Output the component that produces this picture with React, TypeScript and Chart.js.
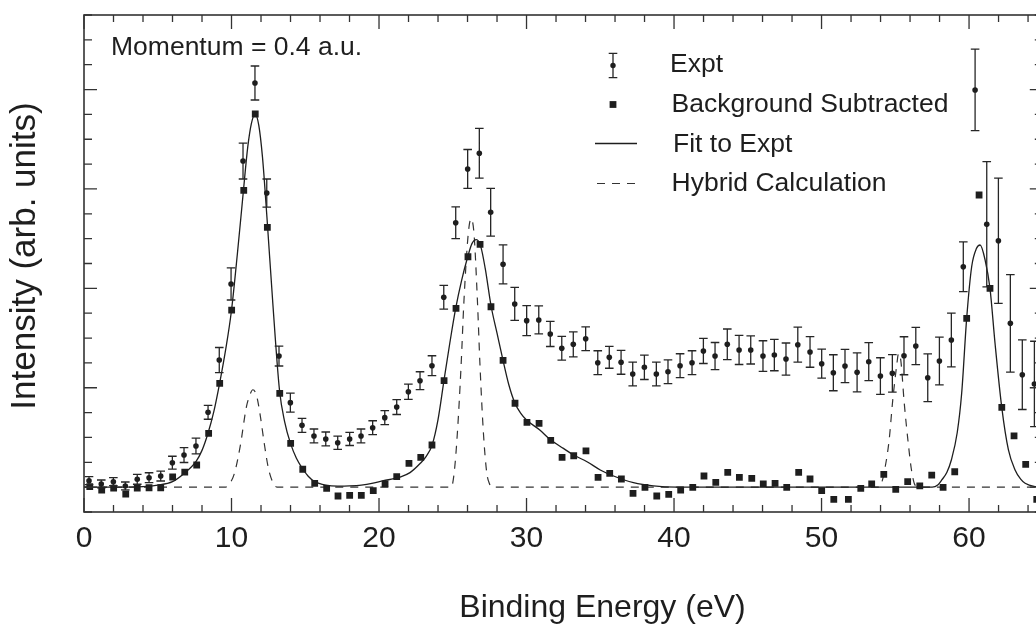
import React, { useEffect, useRef } from 'react';
import { Chart, registerables } from 'chart.js';

Chart.register(...registerables);

// ---------- data ----------
const exptEnergy = [
  0.34, 1.17, 1.99, 2.80, 3.61, 4.41, 5.20, 5.99, 6.78, 7.59,
  8.41, 9.17, 9.97, 10.78, 11.59, 12.39, 13.22, 13.99, 14.78, 15.59,
  16.39, 17.20, 18.01, 18.78, 19.57, 20.39, 21.20, 21.99, 22.78, 23.59,
  24.39, 25.20, 26.01, 26.80, 27.57, 28.41, 29.20, 30.01, 30.83, 31.61,
  32.39, 33.17, 34.01, 34.83, 35.61, 36.41, 37.20, 37.99, 38.80, 39.59,
  40.41, 41.22, 41.99, 42.78, 43.61, 44.41, 45.20, 46.03, 46.80, 47.59,
  48.39, 49.22, 50.01, 50.80, 51.59, 52.41, 53.20, 53.99, 54.80, 55.59,
  56.39, 57.20, 57.99, 58.80, 59.61, 60.41, 61.20, 61.99, 62.80, 63.61, 64.43,
];
const exptIntensity = [
  0.065, 0.032, 0.055, 0.012, 0.079, 0.095, 0.112, 0.246, 0.323, 0.414,
  0.753, 1.279, 2.044, 3.281, 4.066, 2.959, 1.319, 0.850, 0.622, 0.515,
  0.485, 0.447, 0.485, 0.515, 0.598, 0.699, 0.806, 0.960, 1.071, 1.222,
  1.910, 2.660, 3.201, 3.359, 2.765, 2.242, 1.843, 1.675, 1.682, 1.541,
  1.397, 1.437, 1.493, 1.252, 1.306, 1.256, 1.138, 1.206, 1.138, 1.161,
  1.222, 1.252, 1.370, 1.319, 1.437, 1.380, 1.380, 1.319, 1.329, 1.289,
  1.433, 1.360, 1.242, 1.151, 1.219, 1.155, 1.262, 1.118, 1.145, 1.322,
  1.420, 1.101, 1.269, 1.480, 2.218, 3.996, 2.644, 2.479, 1.648, 1.131, 1.038,
];
const exptError = [
  0.04, 0.04, 0.04, 0.04, 0.05, 0.05, 0.05, 0.065, 0.075, 0.08,
  0.07, 0.126, 0.161, 0.181, 0.171, 0.141, 0.10, 0.096, 0.07, 0.07,
  0.07, 0.066, 0.066, 0.07, 0.07, 0.07, 0.075, 0.077, 0.09, 0.10,
  0.12, 0.16, 0.196, 0.25, 0.24, 0.196, 0.166, 0.151, 0.141, 0.126,
  0.12, 0.126, 0.12, 0.12, 0.11, 0.12, 0.12, 0.123, 0.12, 0.12,
  0.12, 0.12, 0.126, 0.136, 0.154, 0.146, 0.141, 0.154, 0.158, 0.161,
  0.176, 0.154, 0.146, 0.181, 0.168, 0.196, 0.191, 0.184, 0.189, 0.191,
  0.188, 0.24, 0.24, 0.27, 0.25, 0.41, 0.63, 0.63, 0.49, 0.35, 0.43,
];

const bgEnergy = [
  0.39, 1.20, 2.01, 2.83, 3.61, 4.41, 5.20, 6.01, 6.83, 7.64,
  8.45, 9.20, 10.01, 10.83, 11.61, 12.43, 13.27, 14.01, 14.83, 15.64,
  16.45, 17.22, 18.01, 18.80, 19.61, 20.41, 21.20, 22.03, 22.83, 23.59,
  24.41, 25.22, 26.03, 26.85, 27.59, 28.41, 29.22, 30.03, 30.85, 31.64,
  32.41, 33.20, 34.03, 34.85, 35.64, 36.43, 37.22, 38.03, 38.83, 39.64,
  40.45, 41.27, 42.03, 42.83, 43.64, 44.43, 45.27, 46.05, 46.85, 47.64,
  48.45, 49.22, 50.01, 50.83, 51.82, 52.66, 53.40, 54.22, 55.03, 55.84,
  56.66, 57.47, 58.24, 59.03, 59.84, 60.68, 61.42, 62.22, 63.05, 63.84, 64.59,
];
const bgIntensity = [
  0.005, -0.029, -0.009, -0.069, -0.009, -0.006, -0.006, 0.102, 0.152, 0.223,
  0.542, 1.045, 1.782, 2.986, 3.754, 2.614, 0.944, 0.441, 0.180, 0.039,
  -0.012, -0.089, -0.082, -0.082, -0.036, 0.032, 0.105, 0.240, 0.300, 0.424,
  1.071, 1.799, 2.318, 2.443, 1.815, 1.276, 0.844, 0.652, 0.642, 0.471,
  0.300, 0.316, 0.364, 0.099, 0.139, 0.082, -0.062, -0.002, -0.089, -0.072,
  -0.029, -0.002, 0.112, 0.049, 0.149, 0.099, 0.089, 0.032, 0.039, -0.002,
  0.149, 0.082, -0.036, -0.122, -0.122, -0.012, 0.032, 0.129, -0.022, 0.055,
  0.012, 0.122, -0.002, 0.155, 1.699, 2.939, 2.000, 0.803, 0.515, 0.230, -0.122,
];

const fitEnergy = [
  0.0, 2.0, 4.0, 5.0, 6.0, 6.8, 7.6, 8.0, 8.4, 8.8,
  9.2, 9.6, 10.0, 10.4, 10.8, 11.1, 11.35, 11.6, 11.85, 12.1,
  12.4, 12.8, 13.25, 13.6, 14.0, 14.4, 14.8, 15.2, 15.6, 16.4,
  17.2, 18.0, 18.8, 19.6, 20.3, 21.0, 21.4, 22.1, 22.8, 23.2,
  23.6, 24.0, 24.4, 24.8, 25.2, 25.6, 26.0, 26.3, 26.6, 26.9,
  27.2, 27.6, 28.0, 28.4, 28.8, 29.2, 29.6, 30.0, 30.9, 31.6,
  32.5, 33.2, 34.1, 35.0, 35.9, 37.25, 38.6, 40.2, 57.5, 57.9,
  58.15, 58.5, 58.8, 59.2, 59.5, 59.84, 60.18, 60.5, 60.75, 61.09,
  61.42, 61.76, 62.22, 62.67, 63.12, 63.5, 63.8, 64.5, 65.0,
];
const fitIntensity = [
  0.0, 0.0, 0.005, 0.02, 0.055, 0.14, 0.26, 0.37, 0.54, 0.76,
  1.05, 1.38, 1.78, 2.35, 2.97, 3.42, 3.66, 3.75, 3.64, 3.32,
  2.72, 1.85, 0.98, 0.66, 0.44, 0.29, 0.19, 0.11, 0.06, 0.02,
  0.01, 0.012, 0.02, 0.04, 0.065, 0.085, 0.10, 0.146, 0.24, 0.31,
  0.424, 0.68, 1.07, 1.45, 1.80, 2.08, 2.31, 2.45, 2.49, 2.42,
  2.2, 1.82, 1.55, 1.28, 1.03, 0.85, 0.745, 0.676, 0.575, 0.48,
  0.39, 0.323, 0.256, 0.173, 0.112, 0.045, 0.012, 0.0, 0.0, 0.025,
  0.072, 0.15, 0.273, 0.55, 0.944, 1.70, 2.22, 2.40, 2.436, 2.285,
  2.0, 1.45, 0.80, 0.374, 0.173, 0.08, 0.039, 0.005, 0.0,
];

const hybridEnergy = [
  0.0, 9.6, 9.9, 10.2, 10.6, 11.0, 11.25, 11.45, 11.7, 11.95,
  12.2, 12.5, 12.8, 13.1, 24.9, 25.1, 25.31, 25.56, 25.76, 26.05,
  26.24, 26.44, 26.67, 26.85, 27.08, 27.3, 27.5, 27.7, 53.9, 54.1,
  54.3, 54.58, 54.83, 55.1, 55.22, 55.37, 55.61, 55.88, 56.1, 56.34,
  56.6, 65.0,
];
const hybridIntensity = [
  0.0, 0.0, 0.04, 0.14, 0.42, 0.8, 0.93, 0.98, 0.92, 0.72,
  0.46, 0.19, 0.05, 0.0, 0.0, 0.15, 0.54, 1.21, 1.88, 2.55,
  2.70, 2.55, 1.88, 1.21, 0.54, 0.15, 0.03, 0.0, 0.0, 0.055,
  0.19, 0.47, 0.88, 1.23, 1.345, 1.28, 0.84, 0.44, 0.17, 0.02,
  0.0, 0.0,
];

const xTitle = 'Binding Energy (eV)';
const yTitle = 'Intensity (arb. units)';
const annotation = 'Momentum = 0.4 a.u.';
const legendLabels = ['Expt', 'Background Subtracted', 'Fit to Expt', 'Hybrid Calculation'];

const FONT = '"Liberation Sans", Arial, Helvetica, sans-serif';
const INK = '#1e1e1e';

export default function App() {
  const ref = useRef<HTMLCanvasElement | null>(null);

  useEffect(() => {
    const canvas = ref.current;
    if (!canvas) return;

    const errorBars = {
      id: 'errorBars',
      beforeDatasetDraw(chart: any, args: any) {
        if (args.index !== 0) return;
        const { ctx, chartArea: a, scales } = chart;
        const xs = scales.x;
        const ys = scales.y;
        ctx.save();
        ctx.beginPath();
        ctx.rect(a.left, a.top, a.right - a.left, a.bottom - a.top);
        ctx.clip();
        ctx.strokeStyle = '#262626';
        ctx.lineWidth = 1.3;
        ctx.beginPath();
        exptEnergy.forEach((e, i) => {
          const px = xs.getPixelForValue(e);
          const top = ys.getPixelForValue(exptIntensity[i] + exptError[i]);
          const bot = ys.getPixelForValue(exptIntensity[i] - exptError[i]);
          ctx.moveTo(px, top);
          ctx.lineTo(px, bot);
          ctx.moveTo(px - 4.3, top);
          ctx.lineTo(px + 4.3, top);
          ctx.moveTo(px - 4.3, bot);
          ctx.lineTo(px + 4.3, bot);
        });
        ctx.stroke();
        ctx.restore();
      },
    };

    const frame = {
      id: 'frame',
      afterDraw(chart: any) {
        const { ctx, chartArea: a, scales } = chart;
        const xs = scales.x;
        const ys = scales.y;
        ctx.save();
        ctx.strokeStyle = '#333';
        ctx.lineWidth = 1.6;
        ctx.strokeRect(a.left, a.top, a.right - a.left, a.bottom - a.top);
        ctx.lineWidth = 1.3;
        ctx.beginPath();
        xs.ticks.forEach((t: any) => {
          const px = xs.getPixelForValue(t.value);
          const major = Math.abs(t.value / 10 - Math.round(t.value / 10)) < 1e-6;
          const len = major ? 14 : 7;
          ctx.moveTo(px, a.bottom);
          ctx.lineTo(px, a.bottom - len);
          ctx.moveTo(px, a.top);
          ctx.lineTo(px, a.top + len);
        });
        ys.ticks.forEach((t: any) => {
          const py = ys.getPixelForValue(t.value);
          const major = Math.abs(t.value - Math.round(t.value)) < 1e-6;
          const len = major ? 13 : 8;
          ctx.moveTo(a.left, py);
          ctx.lineTo(a.left + len, py);
          ctx.moveTo(a.right, py);
          ctx.lineTo(a.right - len, py);
        });
        ctx.stroke();

        ctx.fillStyle = INK;
        ctx.textBaseline = 'alphabetic';

        // axis titles
        ctx.font = `32px ${FONT}`;
        ctx.textAlign = 'center';
        ctx.fillText(xTitle, 602.5, 617);
        ctx.save();
        ctx.translate(34.5, 256);
        ctx.rotate(-Math.PI / 2);
        ctx.font = `35px ${FONT}`;
        ctx.fillText(yTitle, 0, 0);
        ctx.restore();

        // annotation
        ctx.font = `26.5px ${FONT}`;
        ctx.textAlign = 'left';
        ctx.fillText(annotation, 111, 55);

        // legend
        const rows = [65.5, 104.5, 143.5, 183.5];
        ctx.fillText(legendLabels[0], 670, 71.7);
        ctx.fillText(legendLabels[1], 671.5, 111.7);
        ctx.fillText(legendLabels[2], 673, 151.7);
        ctx.fillText(legendLabels[3], 671.5, 191);

        ctx.strokeStyle = '#262626';
        ctx.lineWidth = 1.3;
        ctx.beginPath();
        ctx.moveTo(613, rows[0] - 12.2);
        ctx.lineTo(613, rows[0] + 12.2);
        ctx.moveTo(608.7, rows[0] - 12.2);
        ctx.lineTo(617.3, rows[0] - 12.2);
        ctx.moveTo(608.7, rows[0] + 12.2);
        ctx.lineTo(617.3, rows[0] + 12.2);
        ctx.stroke();
        ctx.beginPath();
        ctx.arc(613, rows[0], 2.7, 0, Math.PI * 2);
        ctx.fill();
        ctx.fillRect(609.6, rows[1] - 3.4, 6.8, 6.8);
        ctx.strokeStyle = INK;
        ctx.beginPath();
        ctx.moveTo(595, rows[2]);
        ctx.lineTo(637, rows[2]);
        ctx.stroke();
        ctx.strokeStyle = '#333';
        ctx.lineWidth = 1.2;
        ctx.setLineDash([8, 7]);
        ctx.beginPath();
        ctx.moveTo(597, rows[3]);
        ctx.lineTo(637, rows[3]);
        ctx.stroke();
        ctx.restore();
      },
    };

    const toPts = (xs: number[], ys: number[]) => xs.map((x, i) => ({ x, y: ys[i] }));

    const chart = new Chart(canvas, {
      type: 'scatter',
      data: {
        datasets: [
          {
            label: legendLabels[0],
            data: toPts(exptEnergy, exptIntensity),
            pointStyle: 'circle',
            pointRadius: 2.8,
            pointBackgroundColor: INK,
            pointBorderWidth: 0,
            showLine: false,
          },
          {
            label: legendLabels[1],
            data: toPts(bgEnergy, bgIntensity),
            pointStyle: 'rect',
            pointRadius: 4.8,
            pointBackgroundColor: INK,
            pointBorderWidth: 0,
            showLine: false,
          },
          {
            label: legendLabels[2],
            data: toPts(fitEnergy, fitIntensity),
            showLine: true,
            pointRadius: 0,
            borderColor: INK,
            borderWidth: 1.3,
            cubicInterpolationMode: 'monotone',
          },
          {
            label: legendLabels[3],
            data: toPts(hybridEnergy, hybridIntensity),
            showLine: true,
            pointRadius: 0,
            borderColor: '#333',
            borderWidth: 1.2,
            borderDash: [8, 7],
            cubicInterpolationMode: 'monotone',
          },
        ],
      } as any,
      options: {
        animation: false,
        responsive: false,
        maintainAspectRatio: false,
        devicePixelRatio: 1,
        layout: { padding: { top: 15, right: 7.2, left: 0, bottom: 0 } },
        plugins: { legend: { display: false }, tooltip: { enabled: false } },
        scales: {
          x: {
            type: 'linear',
            min: 0,
            max: 65,
            ticks: {
              stepSize: 2,
              includeBounds: false,
              autoSkip: false,
              maxRotation: 0,
              minRotation: 0,
              padding: 1,
              color: INK,
              font: { family: FONT, size: 30 },
              callback: (v: any) => (Math.abs(v % 10) < 1e-6 ? String(v) : ''),
            },
            grid: { display: false },
            border: { display: false },
            title: { display: false },
            afterFit: (s: any) => {
              s.height = 116;
            },
          },
          y: {
            type: 'linear',
            min: -0.25,
            max: 4.75,
            ticks: { stepSize: 0.25, includeBounds: false, display: false },
            grid: { display: false },
            border: { display: false },
            title: { display: false },
            afterFit: (s: any) => {
              s.width = 84;
            },
          },
        },
      } as any,
      plugins: [errorBars, frame],
    });

    return () => chart.destroy();
  }, []);

  return (
    <div
      style={{
        position: 'fixed',
        left: 0,
        top: 0,
        width: 1036,
        height: 628,
        overflow: 'hidden',
        background: '#fff',
      }}
    >
      <canvas ref={ref} width={1050} height={628} style={{ display: 'block', width: 1050, height: 628 }} />
    </div>
  );
}
